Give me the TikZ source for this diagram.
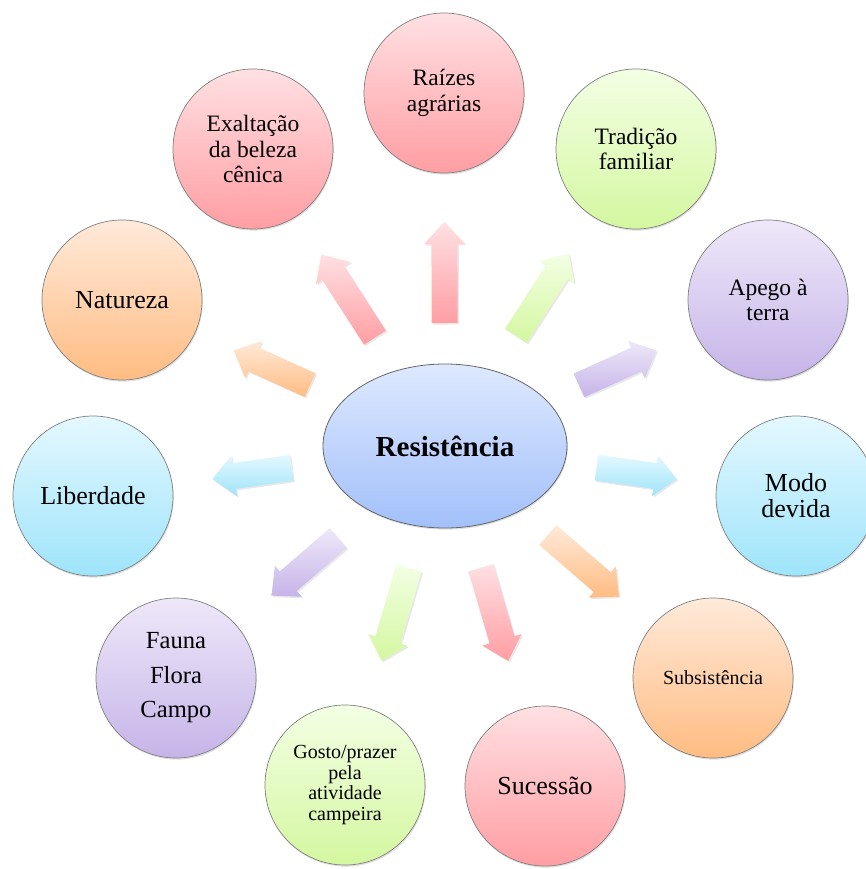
\documentclass[tikz,border=0pt]{standalone}
\usepackage{fontspec}
\setmainfont{Liberation Serif}
\usetikzlibrary{shapes.geometric, calc, shadows}
\definecolor{cPinkA}{RGB}{255,224,227}
\definecolor{cPinkB}{RGB}{255,158,163}
\definecolor{cGreenA}{RGB}{243,255,228}
\definecolor{cGreenB}{RGB}{212,247,160}
\definecolor{cPurpleA}{RGB}{238,232,249}
\definecolor{cPurpleB}{RGB}{198,180,232}
\definecolor{cCyanA}{RGB}{228,248,255}
\definecolor{cCyanB}{RGB}{158,228,250}
\definecolor{cOrangeA}{RGB}{255,234,218}
\definecolor{cOrangeB}{RGB}{255,188,130}
\definecolor{cBlueA}{RGB}{222,233,255}
\definecolor{cBlueB}{RGB}{162,192,250}
\tikzset{
	bubble/.style   ={circle, minimum size=160pt, inner sep=0pt, align=center, draw=black!50, line width=0.7pt, drop shadow={opacity=0.25, shadow xshift=0.8pt, shadow yshift=-1.6pt}, font=\fontsize{23.5}{25.5}\selectfont},
	hub/.style      ={ellipse, minimum width=244pt, minimum height=164pt, inner sep=0pt, draw=black!60, line width=0.8pt, top color=cBlueA, bottom color=cBlueB, drop shadow={opacity=0.25, shadow xshift=0.8pt, shadow yshift=-1.6pt}, font=\fontsize{29}{30}\selectfont\bfseries},
	pinkfill/.style ={top color=cPinkA, bottom color=cPinkB},
	greenfill/.style={top color=cGreenA, bottom color=cGreenB},
	purplefill/.style={top color=cPurpleA, bottom color=cPurpleB},
	cyanfill/.style ={top color=cCyanA, bottom color=cCyanB},
	orangefill/.style={top color=cOrangeA, bottom color=cOrangeB},
	blockarr/.style ={draw=none, drop shadow={opacity=0.18, shadow xshift=1.5pt, shadow yshift=-1.5pt}},
}
% block arrow from tail coordinate #1 to tip coordinate #2
\newcommand{\blockarrow}[3]{%
	\coordinate (hb) at ($(#2)!22pt!(#1)$);
	\path[blockarr, #3] ($(#1)!13pt!90:(#2)$) -- ($(hb)!13pt!90:(#2)$) -- ($(hb)!20.5pt!90:(#2)$) -- (#2)
		-- ($(hb)!20.5pt!-90:(#2)$) -- ($(hb)!13pt!-90:(#2)$) -- ($(#1)!13pt!-90:(#2)$) -- cycle;
}

\begin{document}
\begin{tikzpicture}[x=1pt, y=-1pt]
	\useasboundingbox (0,0) rectangle (865,869);

	% centre
	\node[hub] (res) at (445,446) {Resistência};

	% surrounding bubbles
	\node[bubble, pinkfill]   (raiz) at (444,93)  {Raízes\\agrárias};
	\node[bubble, greenfill]  (trad) at (636,149) {Tradição\\familiar};
	\node[bubble, purplefill] (apego) at (768,300) {Apego à\\terra};
	\node[bubble, cyanfill, font=\fontsize{26}{26}\selectfont] (modo) at (796,496) {Modo\\devida};
	\node[bubble, orangefill, font=\fontsize{20}{21}\selectfont] (subs) at (713,678) {Subsistência};
	\node[bubble, pinkfill, font=\fontsize{26}{27}\selectfont] (suc) at (545,786) {Sucessão};
	\node[bubble, greenfill, font=\fontsize{20}{20.8}\selectfont] (gosto) at (345,785) {Gosto/prazer\\pela\\atividade\\campeira};
	\node[bubble, purplefill, font=\fontsize{24.6}{34.5}\selectfont] (fauna) at (176,678) {Fauna\\Flora\\Campo};
	\node[bubble, cyanfill, font=\fontsize{26}{27}\selectfont] (lib) at (93,496) {Liberdade};
	\node[bubble, orangefill, font=\fontsize{26}{27}\selectfont] (nat) at (122,300) {Natureza};
	\node[bubble, pinkfill]   (exalt) at (253,149) {Exaltação\\da beleza\\cênica};

	% arrow ends
	\coordinate (raiz-t)  at ($(res.center)!123pt!(raiz.center)$);
	\coordinate (raiz-h)  at ($(res.center)!224pt!(raiz.center)$);
	\coordinate (trad-t)  at ($(res.center)!131pt!(trad.center)$);
	\coordinate (trad-h)  at ($(res.center)!229pt!(trad.center)$);
	\coordinate (apego-t) at ($(res.center)!147pt!(apego.center)$);
	\coordinate (apego-h) at ($(res.center)!232pt!(apego.center)$);
	\coordinate (modo-t)  at ($(res.center)!153pt!(modo.center)$);
	\coordinate (modo-h)  at ($(res.center)!234pt!(modo.center)$);
	\coordinate (subs-t)  at ($(res.center)!136pt!(subs.center)$);
	\coordinate (subs-h)  at ($(res.center)!230pt!(subs.center)$);
	\coordinate (suc-t)   at ($(res.center)!127pt!(suc.center)$);
	\coordinate (suc-h)   at ($(res.center)!224pt!(suc.center)$);
	\coordinate (gosto-t) at ($(res.center)!127pt!(gosto.center)$);
	\coordinate (gosto-h) at ($(res.center)!224pt!(gosto.center)$);
	\coordinate (fauna-t) at ($(res.center)!141pt!(fauna.center)$);
	\coordinate (fauna-h) at ($(res.center)!229pt!(fauna.center)$);
	\coordinate (lib-t)   at ($(res.center)!155pt!(lib.center)$);
	\coordinate (lib-h)   at ($(res.center)!235pt!(lib.center)$);
	\coordinate (nat-t)   at ($(res.center)!148pt!(nat.center)$);
	\coordinate (nat-h)   at ($(res.center)!232pt!(nat.center)$);
	\coordinate (exalt-t) at ($(res.center)!129pt!(exalt.center)$);
	\coordinate (exalt-h) at ($(res.center)!228pt!(exalt.center)$);

	% arrows
	\blockarrow{raiz-t}{raiz-h}{pinkfill}
	\blockarrow{trad-t}{trad-h}{greenfill}
	\blockarrow{apego-t}{apego-h}{purplefill}
	\blockarrow{modo-t}{modo-h}{cyanfill}
	\blockarrow{subs-t}{subs-h}{orangefill}
	\blockarrow{suc-t}{suc-h}{pinkfill}
	\blockarrow{gosto-t}{gosto-h}{greenfill}
	\blockarrow{fauna-t}{fauna-h}{purplefill}
	\blockarrow{lib-t}{lib-h}{cyanfill}
	\blockarrow{nat-t}{nat-h}{orangefill}
	\blockarrow{exalt-t}{exalt-h}{pinkfill}
\end{tikzpicture}
\end{document}
